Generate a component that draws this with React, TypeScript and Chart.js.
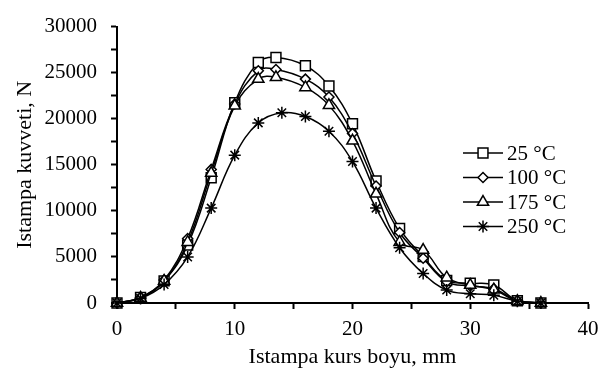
import React, { useEffect, useRef } from 'react';
import { Chart, registerables } from 'chart.js';
import { drawPoint } from 'chart.js/helpers';

Chart.register(...registerables);

// ---- data ----
const seriesNames = ['25 °C', '100 °C', '175 °C', '250 °C'];
const x25 = [0, 2, 4, 6, 8, 10, 12, 13.5, 16, 18, 20, 22, 24, 26, 28, 30, 32, 34, 36];
const y25 = [0, 600, 2400, 6300, 13600, 21750, 26100, 26650, 25750, 23550, 19450, 13250, 8080, 5030, 2450, 2150, 1950, 250, 0];
const x100 = [0, 2, 4, 6, 8, 10, 12, 13.5, 16, 18, 20, 22, 24, 26, 28, 30, 32, 34, 36];
const y100 = [0, 600, 2500, 7000, 14500, 21600, 25200, 25350, 24300, 22350, 18400, 12700, 7650, 4860, 2300, 1850, 1550, 250, 0];
const x175 = [0, 2, 4, 6, 8, 10, 12, 13.5, 16, 18, 20, 22, 24, 26, 28, 30, 32, 34, 36];
const y175 = [0, 550, 2400, 6600, 14100, 21400, 24300, 24500, 23400, 21450, 17600, 11850, 6600, 5750, 2750, 1950, 1450, 200, 0];
const x250 = [0, 2, 4, 6, 8, 10, 12, 14, 16, 18, 20, 22, 24, 26, 28, 30, 32, 34, 36];
const y250 = [0, 500, 2000, 5000, 10300, 16050, 19550, 20650, 20250, 18650, 15350, 10300, 6000, 3200, 1400, 1000, 850, 200, 0];

const xMajorTicks = [0, 10, 20, 30, 40];
const yMajorTicks = [0, 5000, 10000, 15000, 20000, 25000, 30000];
const xTitle = 'Istampa kurs boyu, mm';
const yTitle = 'Istampa kuvveti, N';

const FONT = '"Liberation Serif", "Times New Roman", serif';

const markerStyles = ['rect', 'rectRot', 'triangle', 'star'];
const markerRadii = [7, 5, 6.5, 6];

const zip = (xs: number[], ys: number[]) => xs.map((x, i) => ({ x, y: ys[i] }));

const legendPlugin = {
  id: 'customLegend',
  afterDraw(chart: any) {
    const ctx = chart.ctx;
    ctx.save();
    chart.data.datasets.forEach((ds: any, i: number) => {
      const y = 153 + i * 24.5;
      ctx.strokeStyle = '#000';
      ctx.lineWidth = 1.5;
      ctx.beginPath();
      ctx.moveTo(463, y);
      ctx.lineTo(503, y);
      ctx.stroke();
      ctx.fillStyle = '#fff';
      drawPoint(ctx, { pointStyle: ds.pointStyle, radius: ds.pointRadius, rotation: 0, borderWidth: 1.5 } as any, 483, y);
      ctx.fillStyle = '#000';
      ctx.font = `21px ${FONT}`;
      ctx.textBaseline = 'middle';
      ctx.textAlign = 'left';
      ctx.fillText(ds.label, 507, y + 1);
    });
    ctx.restore();
  },
};

export default function App() {
  const ref = useRef<HTMLCanvasElement | null>(null);

  useEffect(() => {
    document.body.style.margin = '0';
    if (!ref.current) return;
    const xsAll = [x25, x100, x175, x250];
    const ysAll = [y25, y100, y175, y250];
    const datasets = seriesNames.map((name, i) => ({
      label: name,
      data: zip(xsAll[i], ysAll[i]),
      borderColor: '#000',
      backgroundColor: '#fff',
      borderWidth: 1.5,
      pointStyle: markerStyles[i],
      pointRadius: markerRadii[i],
      pointBorderWidth: 1.5,
      pointBorderColor: '#000',
      pointBackgroundColor: '#fff',
      tension: 0.4,
      clip: false as any,
      order: 4 - i,
    }));

    const chart = new Chart(ref.current, {
      type: 'line',
      data: { datasets },
      plugins: [legendPlugin],
      options: {
        responsive: false,
        animation: false,
        devicePixelRatio: 1,
        layout: { padding: { top: 17, right: 20, left: 0, bottom: 0 } },
        plugins: {
          legend: { display: false },
          tooltip: { enabled: false },
        },
        scales: {
          x: {
            type: 'linear',
            min: 0,
            max: 40,
            ticks: {
              stepSize: 5,
              autoSkip: false,
              maxRotation: 0,
              padding: 8,
              color: '#000',
              font: { family: FONT, size: 21 },
              callback: (v: any) => (xMajorTicks.includes(Number(v)) ? String(v) : ''),
            },
            grid: {
              display: true,
              drawOnChartArea: false,
              drawTicks: true,
              tickLength: 6,
              tickWidth: 2,
              tickColor: '#000',
            },
            border: { display: true, color: '#000', width: 2 },
            title: {
              display: true,
              text: xTitle,
              color: '#000',
              font: { family: FONT, size: 22 },
              padding: { top: 0, bottom: 2 },
            },
            afterFit: (s: any) => {
              s.height = 69;
            },
          },
          y: {
            type: 'linear',
            min: 0,
            max: 30000,
            ticks: {
              stepSize: 2500,
              autoSkip: false,
              padding: 14,
              color: '#000',
              font: { family: FONT, size: 21 },
              callback: (v: any) => (yMajorTicks.includes(Number(v)) ? String(v) : ''),
            },
            grid: {
              display: true,
              drawOnChartArea: false,
              drawTicks: true,
              tickLength: 6,
              tickWidth: 2,
              tickColor: '#000',
            },
            border: { display: true, color: '#000', width: 2 },
            title: {
              display: true,
              text: yTitle,
              color: '#000',
              font: { family: FONT, size: 22 },
              padding: { top: 12, bottom: 0 },
            },
            afterFit: (s: any) => {
              s.width = 117;
            },
          },
        },
      } as any,
    });
    return () => chart.destroy();
  }, []);

  return (
    <div style={{ width: 608, height: 372 }}>
      <canvas ref={ref} width={608} height={372} style={{ display: 'block' }} />
    </div>
  );
}
